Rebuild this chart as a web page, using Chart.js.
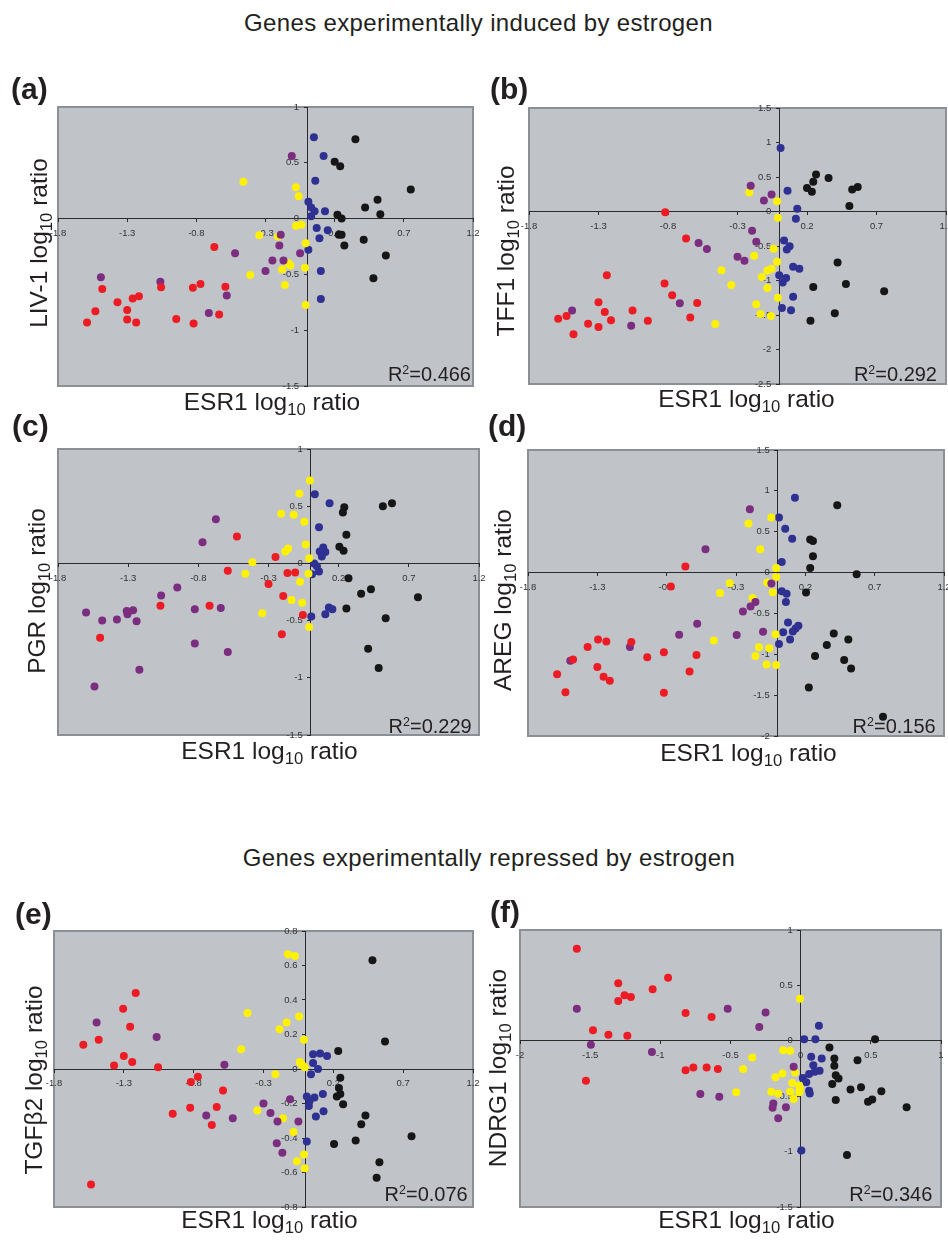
<!DOCTYPE html>
<html>
<head>
<meta charset="utf-8">
<title>ESR1 vs estrogen-regulated genes</title>
<script src="https://cdn.jsdelivr.net/npm/chart.js@4.4.1/dist/chart.umd.min.js"></script>
<style>
  html, body { margin: 0; padding: 0; background: #fff; }
  body {
    width: 948px; height: 1240px; position: relative; overflow: hidden;
    font-family: "Liberation Sans", Arial, Helvetica, sans-serif; color: #231f20;
  }
  canvas { position: absolute; }
  .txt { position: absolute; white-space: nowrap; line-height: 1; z-index: 2; }
  .head { font-size: 24px; letter-spacing: 0.35px; width: 948px; text-align: center; }
  .letter { font-size: 30px; font-weight: bold; }
  .xt { font-size: 24.5px; width: 300px; text-align: center; }
  .yt { font-size: 24.5px; width: 300px; text-align: center; transform-origin: 0 0; transform: rotate(-90deg); }
  .r2 { font-size: 20px; text-align: right; }
  sub { font-size: 0.68em; line-height: 0; vertical-align: -0.3em; }
  sup { font-size: 0.62em; line-height: 0; vertical-align: 0.55em; }
</style>
</head>
<body>
<script>
// ============================================
// Data (ESR1 log10 ratio, gene log10 ratio)
// ============================================
const xTicksMain = [-1.8, -1.3, -0.8, -0.3, 0.2, 0.7, 1.2];
const xTicksF = [-2, -1.5, -1, -0.5, 0, 0.5, 1];
const yTicksA = [-1.5, -1, -0.5, 0, 0.5, 1];
const yTicksB = [-2.5, -2, -1.5, -1, -0.5, 0, 0.5, 1, 1.5];
const yTicksC = [-1.5, -1, -0.5, 0, 0.5, 1];
const yTicksD = [-2, -1.5, -1, -0.5, 0, 0.5, 1, 1.5];
const yTicksE = [-0.8, -0.6, -0.4, -0.2, 0, 0.2, 0.4, 0.6, 0.8];
const yTicksF = [-1.5, -1, -0.5, 0, 0.5, 1];

// (a) LIV-1
const aRed = [[-0.67,-0.255],[-1.48,-0.63],[-1.055,-0.615],[-0.825,-0.62],[-0.77,-0.585],[-0.59,-0.61],[-1.37,-0.75],[-1.26,-0.715],[-1.215,-0.695],[-1.53,-0.83],[-1.3,-0.82],[-1.59,-0.93],[-1.3,-0.905],[-1.235,-0.93],[-0.945,-0.9],[-0.82,-0.94],[-0.635,-0.86]];
const aPurple = [[-0.11,0.56],[-0.19,-0.145],[-0.2,-0.24],[-0.52,-0.31],[-0.05,-0.31],[-0.25,-0.375],[-0.17,-0.375],[-0.3,-0.47],[-1.49,-0.525],[-1.06,-0.565],[-0.58,-0.69],[-0.71,-0.845]];
const aYellow = [[-0.46,0.33],[-0.08,0.28],[-0.06,0.2],[-0.08,-0.065],[-0.04,-0.055],[-0.345,-0.15],[-0.21,-0.16],[-0.01,-0.22],[-0.41,-0.505],[-0.135,-0.4],[-0.12,-0.42],[-0.18,-0.455],[-0.015,-0.44],[-0.16,-0.595],[-0.01,-0.775]];
const aBlue = [[0.05,0.73],[0.12,0.56],[0.06,0.34],[0.01,0.15],[0.03,0.1],[0.055,0.065],[0.03,0.02],[0.13,0.065],[0.07,-0.085],[0.15,-0.105],[0.09,-0.175],[0.01,-0.28],[0.1,-0.47],[0.1,-0.72]];
const aBlack = [[0.35,0.71],[0.2,0.51],[0.24,0.47],[0.75,0.26],[0.51,0.17],[0.42,0.1],[0.53,0.04],[0.22,0.035],[0.25,0],[0.23,-0.145],[0.25,-0.145],[0.41,-0.19],[0.27,-0.24],[0.57,-0.33],[0.48,-0.535]];

// (b) TFF1
const bRed = [[-0.82,-0.01],[-0.67,-0.39],[-1.24,-0.925],[-0.825,-1.045],[-0.77,-1.215],[-0.59,-1.325],[-1.3,-1.315],[-1.255,-1.455],[-1.21,-1.575],[-1.055,-1.435],[-0.945,-1.585],[-0.64,-1.535],[-1.59,-1.555],[-1.53,-1.515],[-1.375,-1.625],[-1.3,-1.675],[-1.48,-1.78]];
const bPurple = [[-0.205,0.375],[-0.055,0.245],[-0.11,0.16],[-0.195,-0.28],[-0.165,-0.44],[-0.58,-0.455],[-0.52,-0.545],[-0.3,-0.655],[-0.25,-0.715],[-0.715,-1.33],[-1.49,-1.435],[-1.065,-1.655]];
const bYellow = [[-0.215,0.275],[-0.015,0.15],[-0.01,-0.09],[-0.04,-0.54],[-0.015,-0.73],[-0.18,-0.64],[-0.415,-0.85],[-0.085,-0.855],[-0.055,-0.83],[-0.125,-0.95],[-0.345,-1.065],[-0.085,-1.11],[-0.01,-1.25],[-0.165,-1.345],[-0.135,-1.485],[-0.06,-1.515],[-0.46,-1.63]];
const bBlue = [[0.01,0.92],[0.06,0.3],[0.13,0.04],[0.12,-0.105],[0.035,-0.42],[0.075,-0.505],[0.055,-0.55],[0.1,-0.8],[0.145,-0.83],[0,-0.925],[0.05,-0.965],[0.025,-1.03],[0.1,-1.235],[0.02,-1.4],[0.085,-1.43]];
const bBlack = [[0.265,0.535],[0.245,0.43],[0.2,0.34],[0.235,0.285],[0.355,0.485],[0.525,0.32],[0.565,0.355],[0.505,0.08],[0.42,-0.74],[0.245,-1.095],[0.48,-1.05],[0.755,-1.155],[0.4,-1.475],[0.225,-1.585]];

// (c) PGR
const cRed = [[-0.525,0.235],[-0.25,0.055],[-0.59,-0.065],[-0.165,-0.085],[-0.11,-0.08],[-0.3,-0.18],[-0.195,-0.285],[-1.07,-0.37],[-0.72,-0.37],[-0.055,-0.45],[-0.205,-0.62],[-1.5,-0.65]];
const cPurple = [[-0.675,0.385],[-0.77,0.185],[-0.95,-0.21],[-1.065,-0.28],[-0.825,-0.4],[-0.64,-0.39],[-1.6,-0.43],[-1.31,-0.415],[-1.265,-0.41],[-1.305,-0.445],[-1.38,-0.49],[-1.485,-0.5],[-1.24,-0.505],[-0.825,-0.7],[-0.59,-0.775],[-1.22,-0.93],[-1.54,-1.075]];
const cYellow = [[-0.005,0.725],[-0.08,0.61],[-0.21,0.435],[-0.12,0.425],[-0.045,0.365],[-0.035,0.165],[-0.16,0.13],[-0.18,0.105],[-0.01,0.045],[-0.415,0.01],[-0.465,-0.09],[-0.015,-0.09],[-0.075,-0.16],[-0.135,-0.32],[-0.06,-0.345],[-0.345,-0.435],[-0.01,-0.555]];
const cBlue = [[0.03,0.605],[0.135,0.525],[0.06,0.315],[0.09,0.14],[0.065,0.105],[0.105,0.1],[0.08,0.06],[0.025,0],[0.045,-0.025],[0.06,-0.07],[0.01,-0.095],[0.13,-0.385],[0.155,-0.4],[0.105,-0.445],[0.005,-0.465]];
const cBlack = [[0.24,0.49],[0.23,0.445],[0.515,0.5],[0.58,0.525],[0.255,0.25],[0.205,0.145],[0.235,0.11],[0.27,-0.13],[0.36,-0.265],[0.43,-0.225],[0.765,-0.295],[0.255,-0.395],[0.535,-0.48],[0.41,-0.745],[0.485,-0.915]];

// (d) AREG
const dRed = [[-0.665,0.075],[-0.77,-0.17],[-1.295,-0.82],[-1.235,-0.845],[-1.055,-0.85],[-1.37,-0.91],[-0.82,-0.975],[-0.94,-1.035],[-0.585,-1.01],[-1.475,-1.065],[-1.3,-1.155],[-1.59,-1.245],[-1.255,-1.275],[-1.21,-1.325],[-0.635,-1.21],[-1.53,-1.465],[-0.82,-1.47]];
const dPurple = [[-0.2,0.775],[-0.52,0.285],[-0.045,-0.135],[-0.16,-0.36],[-0.195,-0.415],[-0.25,-0.475],[-0.58,-0.625],[-0.71,-0.76],[-0.105,-0.725],[-0.295,-0.765],[-1.065,-0.91],[-1.495,-1.08]];
const dYellow = [[-0.045,0.675],[-0.21,0.6],[-0.125,0.285],[-0.01,0.055],[-0.01,-0.055],[-0.075,-0.12],[-0.035,-0.24],[-0.345,-0.13],[-0.415,-0.25],[-0.18,-0.31],[-0.015,-0.755],[-0.46,-0.83],[-0.135,-0.915],[-0.06,-0.925],[-0.16,-1.02],[-0.08,-1.125],[-0.01,-1.13]];
const dBlue = [[0.125,0.915],[0.01,0.675],[0.055,0.535],[0.105,0.415],[0.03,0.13],[0.03,-0.23],[0.065,-0.26],[0.06,-0.36],[0.075,-0.61],[0.15,-0.65],[0.13,-0.685],[0.11,-0.72],[0.04,-0.73],[0.09,-0.82],[0.01,-0.875]];
const dBlack = [[0.43,0.825],[0.235,0.405],[0.255,0.385],[0.255,0.2],[0.235,0.055],[0.57,-0.02],[0.205,-0.245],[0.405,-0.745],[0.51,-0.82],[0.355,-0.885],[0.27,-1.02],[0.48,-1.07],[0.53,-1.175],[0.225,-1.405],[0.76,-1.765]];

// (e) TGFb2
const eRed = [[-1.215,0.44],[-1.305,0.35],[-1.255,0.245],[-1.48,0.17],[-1.59,0.14],[-1.3,0.075],[-1.24,0.04],[-1.37,0.02],[-1.055,0.01],[-0.77,-0.045],[-0.82,-0.075],[-0.59,-0.125],[-0.825,-0.225],[-0.635,-0.22],[-0.95,-0.26],[-0.67,-0.325],[-1.535,-0.67]];
const ePurple = [[-1.495,0.27],[-1.065,0.185],[-0.58,0.025],[-0.3,-0.2],[-0.11,-0.175],[-0.25,-0.255],[-0.71,-0.27],[-0.52,-0.285],[-0.2,-0.305],[-0.05,-0.305],[-0.205,-0.43],[-0.165,-0.485]];
const eYellow = [[-0.125,0.665],[-0.075,0.655],[-0.415,0.325],[-0.135,0.27],[-0.045,0.305],[-0.185,0.23],[-0.01,0.17],[-0.46,0.115],[-0.04,0.04],[-0.025,0.025],[-0.005,0.01],[-0.215,-0.03],[-0.345,-0.24],[-0.16,-0.285],[-0.085,-0.365],[-0.01,-0.495],[-0.06,-0.535],[-0.005,-0.575]];
const eBlue = [[0.055,0.085],[0.105,0.09],[0.155,0.075],[0.055,0.035],[0.09,0],[0.04,-0.03],[0.01,-0.16],[0.065,-0.165],[0.125,-0.145],[0.03,-0.185],[0.025,-0.215],[0.13,-0.245],[0.075,-0.275],[0.01,-0.42]];
const eBlack = [[0.48,0.63],[0.57,0.16],[0.235,0.105],[0.25,-0.05],[0.24,-0.11],[0.25,-0.145],[0.225,-0.16],[0.27,-0.205],[0.43,-0.27],[0.4,-0.32],[0.76,-0.39],[0.205,-0.435],[0.36,-0.415],[0.53,-0.54],[0.51,-0.63]];

// (f) NDRG1
const fRed = [[-1.595,0.83],[-0.945,0.57],[-1.3,0.52],[-1.055,0.465],[-1.255,0.41],[-1.21,0.395],[-1.3,0.36],[-0.82,0.25],[-0.635,0.215],[-1.48,0.095],[-1.37,0.055],[-1.235,0.045],[-0.82,-0.265],[-0.765,-0.24],[-0.67,-0.24],[-0.59,-0.255],[-1.53,-0.36]];
const fPurple = [[-1.595,0.29],[-0.52,0.29],[-0.25,0.255],[-0.295,0.125],[-1.495,-0.035],[-1.06,-0.1],[-0.05,-0.235],[-0.715,-0.48],[-0.58,-0.505],[-0.195,-0.565],[-0.2,-0.605],[-0.105,-0.6],[-0.16,-0.7]];
const fYellow = [[-0.005,0.38],[-0.125,-0.085],[-0.075,-0.09],[-0.345,-0.15],[-0.41,-0.255],[-0.13,-0.295],[-0.18,-0.33],[-0.04,-0.285],[-0.06,-0.38],[-0.01,-0.405],[-0.005,-0.44],[-0.21,-0.46],[-0.16,-0.475],[-0.075,-0.46],[-0.01,-0.465],[-0.46,-0.465],[-0.05,-0.525]];
const fBlue = [[0.13,0.135],[0.025,0.015],[0.105,0.015],[0.075,-0.145],[0.15,-0.16],[0.09,-0.22],[0.135,-0.27],[0.1,-0.28],[0.06,-0.3],[0.015,-0.335],[0.04,-0.375],[0.06,-0.45],[0.065,-0.475],[0.005,-0.99]];
const fBlack = [[0.53,0.015],[0.205,-0.06],[0.24,-0.16],[0.24,-0.225],[0.405,-0.175],[0.25,-0.31],[0.27,-0.34],[0.225,-0.39],[0.355,-0.44],[0.43,-0.42],[0.575,-0.455],[0.51,-0.53],[0.48,-0.55],[0.25,-0.535],[0.755,-0.6],[0.33,-1.03]];

// ============================================
// Styling
// ============================================
const SERIES_COLORS = ["#ed1c24", "#7b2d80", "#fff200", "#2e3192", "#161616"];
const SERIES_NAMES = ["red", "purple", "yellow", "blue", "black"];
const AXIS_COLOR = "#2a2a2a";
const TICK_COLOR = "#333333";
const PLOT_BG = "#c0c3c8";
const FRAME_COLOR = "#8b9096";
const FONT = '"Liberation Sans", Arial, Helvetica, sans-serif';
const PAD = 16;
const TITLE_SIZE = 24.5;

// frame = [left, top, right, bottom] of the grey plot box
const PANELS = [
  { letter: "(a)", gene: "LIV-1", r2: "0.466", frame: [58, 107, 473, 386], xTicks: xTicksMain, yTicks: yTicksA,
    series: [aRed, aPurple, aYellow, aBlue, aBlack], letterPos: [11, 99], xTitle: [272, 411], yTitle: [48, 243], r2Pos: [471, 380.7] },
  { letter: "(b)", gene: "TFF1", r2: "0.292", frame: [529, 108, 946, 384], xTicks: xTicksMain, yTicks: yTicksB,
    series: [bRed, bPurple, bYellow, bBlue, bBlack], letterPos: [490, 99], xTitle: [746.5, 408], yTitle: [515, 251], r2Pos: [937, 380.7] },
  { letter: "(c)", gene: "PGR", r2: "0.229", frame: [58, 449, 479, 735], xTicks: xTicksMain, yTicks: yTicksC,
    series: [cRed, cPurple, cYellow, cBlue, cBlack], letterPos: [12, 436], xTitle: [269.5, 760], yTitle: [46, 591], r2Pos: [471.7, 733] },
  { letter: "(d)", gene: "AREG", r2: "0.156", frame: [528, 450, 944, 736], xTicks: xTicksMain, yTicks: yTicksD,
    series: [dRed, dPurple, dYellow, dBlue, dBlack], letterPos: [488, 436], xTitle: [748.5, 762], yTitle: [512, 600], r2Pos: [935.7, 732.7] },
  { letter: "(e)", gene: "TGFβ2", r2: "0.076", frame: [54, 931, 473, 1207], xTicks: xTicksMain, yTicks: yTicksE,
    series: [eRed, ePurple, eYellow, eBlue, eBlack], letterPos: [15, 924], xTitle: [269.5, 1229], yTitle: [43, 1080], r2Pos: [467.7, 1201] },
  { letter: "(f)", gene: "NDRG1", r2: "0.346", frame: [520, 930, 941, 1207], xTicks: xTicksF, yTicks: yTicksF,
    series: [fRed, fPurple, fYellow, fBlue, fBlack], letterPos: [490, 922], xTitle: [746.5, 1229], yTitle: [507, 1068], r2Pos: [932.3, 1200.7] },
];

// grey plot box with its border
const framePlugin = {
  id: "plotFrame",
  beforeDraw(chart) {
    const { ctx, chartArea: a } = chart;
    ctx.save();
    ctx.fillStyle = PLOT_BG;
    ctx.fillRect(a.left, a.top, a.width, a.height);
    ctx.strokeStyle = FRAME_COLOR;
    ctx.lineWidth = 2;
    ctx.strokeRect(a.left, a.top, a.width, a.height);
    ctx.restore();
  },
};

// ============================================
// Helpers
// ============================================
function addText(cls, html, left, top) {
  const el = document.createElement("div");
  el.className = "txt " + cls;
  el.innerHTML = html;
  el.style.left = left + "px";
  el.style.top = top + "px";
  document.body.appendChild(el);
  return el;
}

// baseline -> top for line-height:1 in Liberation Sans
const topFor = (baseline, size) => baseline - 0.847 * size;

function axisOptions(ticks, crossAt, labelFn) {
  return {
    type: "linear",
    min: ticks[0],
    max: ticks[ticks.length - 1],
    position: crossAt,
    afterBuildTicks: (scale) => {
      scale.ticks = ticks.map((v) => ({ value: v }));
    },
    grid: { display: true, drawOnChartArea: false, drawTicks: true, tickLength: 3, tickColor: AXIS_COLOR },
    border: { display: true, color: AXIS_COLOR, width: 1 },
    ticks: {
      autoSkip: false,
      maxRotation: 0,
      padding: 6,
      color: TICK_COLOR,
      font: { family: FONT, size: 9.5 },
      callback: labelFn,
    },
  };
}

function makePanel(p) {
  const [l, t, r, b] = p.frame;
  const canvas = document.createElement("canvas");
  canvas.width = r - l + 2 * PAD;
  canvas.height = b - t + 2 * PAD;
  canvas.style.left = l - PAD + "px";
  canvas.style.top = t - PAD + "px";
  document.body.appendChild(canvas);

  // y labels sit flush on the crossing axis, so keep a small gap after them
  const x = axisOptions(p.xTicks, { y: 0 }, (v) => String(v));
  const y = axisOptions(p.yTicks, { x: 0 }, (v) => String(v) + "   ");

  new Chart(canvas, {
    type: "scatter",
    data: {
      datasets: p.series.map((pts, i) => ({
        label: SERIES_NAMES[i],
        data: pts.map(([px, py]) => ({ x: px, y: py })),
        backgroundColor: SERIES_COLORS[i],
        borderWidth: 0,
        pointRadius: 4,
        pointHoverRadius: 4,
      })),
    },
    options: {
      responsive: false,
      animation: false,
      events: [],
      layout: { padding: PAD },
      plugins: { legend: { display: false }, tooltip: { enabled: false } },
      scales: { x, y },
    },
    plugins: [framePlugin],
  });

  // texts
  addText("letter", p.letter, p.letterPos[0], topFor(p.letterPos[1], 30));
  addText("xt", "ESR1 log<sub>10</sub> ratio", p.xTitle[0] - 150, topFor(p.xTitle[1], TITLE_SIZE));
  addText("yt", p.gene + " log<sub>10</sub> ratio", p.yTitle[0] - 0.847 * TITLE_SIZE, p.yTitle[1] + 150);
  const r2 = addText("r2", "R<sup>2</sup>=" + p.r2, 0, topFor(p.r2Pos[1], 20));
  r2.style.left = "auto";
  r2.style.right = 948 - p.r2Pos[0] + "px";
}

// ============================================
// Build
// ============================================
addText("head", "Genes experimentally induced by estrogen", 478.5 - 474, topFor(31, 24));
addText("head", "Genes experimentally repressed by estrogen", 489 - 474, topFor(866, 24));
PANELS.forEach(makePanel);
</script>
</body>
</html>
